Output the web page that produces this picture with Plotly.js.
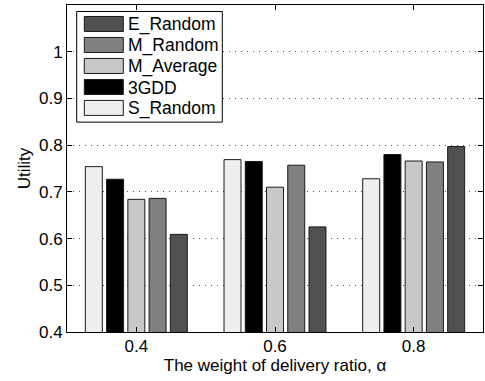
<!DOCTYPE html>
<html>
<head>
<meta charset="utf-8">
<script src="https://cdn.plot.ly/plotly-3.0.1.min.js"></script>
<style>html,body{margin:0;padding:0;background:#fff;}#chart{width:485px;height:381px;}</style>
</head>
<body>
<div id="chart"></div>
<script>
// Data
var categories = ['0.4', '0.6', '0.8'];
var seriesNames = ['S_Random', '3GDD', 'M_Average', 'M_Random', 'E_Random'];
var sRandom  = [0.754, 0.769, 0.728];
var gdd3     = [0.727, 0.765, 0.780];
var mAverage = [0.684, 0.710, 0.766];
var mRandom  = [0.686, 0.757, 0.764];
var eRandom  = [0.609, 0.625, 0.797];
var seriesValues = [sRandom, gdd3, mAverage, mRandom, eRandom];
var seriesColors = ['#eeeeee', '#000000', '#c8c8c8', '#808080', '#505050'];
var yTicks = [0.4, 0.5, 0.6, 0.7, 0.8, 0.9, 1.0];
var yTickText = ['0.4', '0.5', '0.6', '0.7', '0.8', '0.9', '1'];

var FONT = 'Liberation Sans, Arial, Helvetica, sans-serif';
var W = 485, H = 381;
var mL = 67, mR = 2, mT = 4.5, mB = 49.3;
var pw = W - mL - mR, ph = H - mT - mB;
function px(x) { return (x - mL) / pw; }
function py(y) { return (H - mB - y) / ph; }

var traces = seriesNames.map(function (name, i) {
  return {
    type: 'bar',
    name: name,
    x: categories,
    y: seriesValues[i],
    marker: { color: seriesColors[i], line: { color: '#1a1a1a', width: 1 } },
    showlegend: false
  };
});

// Custom legend (MATLAB-style large swatches), built from series arrays
var shapes = [{
  type: 'rect', xref: 'paper', yref: 'paper',
  x0: px(76.7), x1: px(222.3), y0: py(121.7), y1: py(11),
  line: { color: '#000', width: 1 }, fillcolor: '#fff', layer: 'above'
}];
var annotations = [];
var legendOrder = seriesNames.slice().reverse();
var legendColors = seriesColors.slice().reverse();
legendOrder.forEach(function (name, k) {
  var cy = 23.5 + k * 21;
  shapes.push({
    type: 'rect', xref: 'paper', yref: 'paper',
    x0: px(84.3), x1: px(123.3), y0: py(cy + 7.5), y1: py(cy - 7.5),
    line: { color: '#1a1a1a', width: 1 }, fillcolor: legendColors[k], layer: 'above'
  });
  annotations.push({
    xref: 'paper', yref: 'paper', x: px(126), y: py(cy + 1),
    xanchor: 'left', yanchor: 'middle', showarrow: false,
    text: name, font: { family: FONT, size: 17.5, color: '#000' }
  });
});

var layout = {
  width: W, height: H,
  margin: { l: mL, r: mR, t: mT, b: mB, pad: 0 },
  paper_bgcolor: '#fff', plot_bgcolor: '#fff',
  font: { family: FONT, size: 17, color: '#000' },
  barmode: 'group', bargap: 0.234, bargroupgap: 0.2,
  showlegend: false,
  xaxis: {
    type: 'category', range: [-0.5, 2.5],
    showline: true, linecolor: '#000', linewidth: 1, mirror: 'ticks',
    ticks: 'inside', ticklen: 5, tickcolor: '#000',
    showgrid: false, zeroline: false,
    tickfont: { family: FONT, size: 17, color: '#000' },
    ticklabelstandoff: -1,
    title: { text: 'The weight of delivery ratio, α', font: { family: FONT, size: 17, color: '#000' }, standoff: 0 },
    automargin: false
  },
  yaxis: {
    range: [0.4, 1.1],
    tickvals: yTicks, ticktext: yTickText,
    showline: true, linecolor: '#000', linewidth: 1, mirror: 'ticks',
    ticks: 'inside', ticklen: 5, tickcolor: '#000',
    showgrid: true, gridcolor: '#555', griddash: '1px,5px', gridwidth: 1,
    zeroline: false,
    tickfont: { family: FONT, size: 17, color: '#000' },
    title: { text: 'Utility', font: { family: FONT, size: 17, color: '#000' }, standoff: 4 },
    automargin: false
  },
  shapes: shapes,
  annotations: annotations
};

Plotly.newPlot('chart', traces, layout, { displayModeBar: false, staticPlot: true });
</script>
</body>
</html>
